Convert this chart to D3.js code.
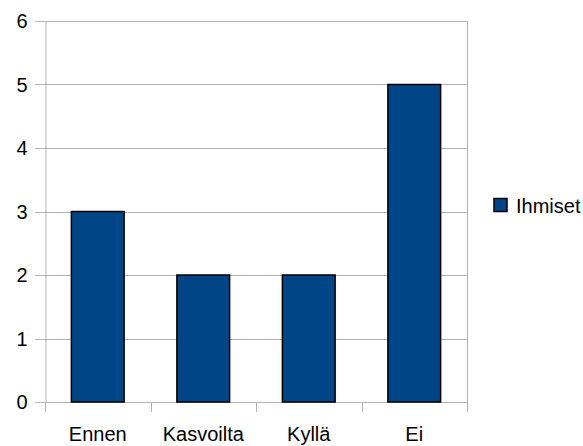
<!DOCTYPE html>
<html>
<head>
<meta charset="utf-8">
<script src="https://cdn.jsdelivr.net/npm/d3@7"></script>
<style>
  html, body { margin: 0; padding: 0; background: #fff; }
  svg { display: block; font-family: "Liberation Sans", Arial, sans-serif; }
</style>
</head>
<body>
<svg id="chart" width="583" height="446"></svg>
<script>
const categories = ["Ennen", "Kasvoilta", "Kyllä", "Ei"];
const values = [3, 2, 2, 5];
const seriesName = "Ihmiset";
const yTicks = [0, 1, 2, 3, 4, 5, 6];

const svg = d3.select("#chart");
const plot = { left: 45, right: 467, top: 21, bottom: 402 };
const gridColor = "#b3b3b3";
const barColor = "#004586";
const fontSize = 20;

const x = d3.scaleBand().domain(categories).range([plot.left, plot.right]).paddingInner(0).paddingOuter(0);
const y = d3.scaleLinear().domain([0, 6]).range([plot.bottom, plot.top]);

// horizontal grid lines (extending left as tick marks)
svg.append("g").selectAll("line").data(yTicks).join("line")
  .attr("x1", plot.left - 10).attr("x2", plot.right)
  .attr("y1", d => Math.round(y(d)) + 0.5).attr("y2", d => Math.round(y(d)) + 0.5)
  .attr("stroke", gridColor).attr("stroke-width", 1);

// right frame edge
svg.append("line")
  .attr("x1", plot.right + 0.5).attr("x2", plot.right + 0.5)
  .attr("y1", plot.top).attr("y2", plot.bottom)
  .attr("stroke", gridColor);

// y axis
const yAxis = d3.axisLeft(y).tickValues(yTicks).tickFormat(d3.format("d")).tickSize(0).tickPadding(18);
const gy = svg.append("g").attr("transform", `translate(${plot.left + 0.5},0.5)`).call(yAxis);
gy.select(".domain").attr("stroke", gridColor);
gy.selectAll("text").attr("font-size", fontSize).attr("fill", "#000").attr("font-family", "Liberation Sans, Arial, sans-serif");

// x axis ticks at category boundaries
const bounds = categories.map(c => x(c)).concat([plot.right]);
svg.append("g").selectAll("line").data(bounds).join("line")
  .attr("x1", d => Math.round(d) + 0.5).attr("x2", d => Math.round(d) + 0.5)
  .attr("y1", plot.bottom).attr("y2", plot.bottom + 10)
  .attr("stroke", gridColor);

const xAxis = d3.axisBottom(x).tickSize(0).tickPadding(25);
const gx = svg.append("g").attr("transform", `translate(0,${plot.bottom})`).call(xAxis);
gx.select(".domain").remove();
gx.selectAll("text").attr("font-size", fontSize).attr("fill", "#000").attr("font-family", "Liberation Sans, Arial, sans-serif");

// bars
const bw = x.bandwidth() * 0.5;
svg.append("g").selectAll("rect").data(values).join("rect")
  .attr("x", (d, i) => x(categories[i]) + (x.bandwidth() - bw) / 2)
  .attr("y", d => y(d))
  .attr("width", bw)
  .attr("height", d => y(0) - y(d))
  .attr("fill", barColor)
  .attr("stroke", "#000")
  .attr("stroke-width", 1.5);

// legend
const lg = svg.append("g").attr("transform", "translate(494,198.5)");
lg.append("rect").attr("width", 13).attr("height", 13)
  .attr("fill", barColor).attr("stroke", "#000").attr("stroke-width", 1.5);
lg.append("text").attr("x", 22).attr("y", 14).attr("font-size", fontSize)
  .attr("fill", "#000").text(seriesName);
</script>
</body>
</html>
